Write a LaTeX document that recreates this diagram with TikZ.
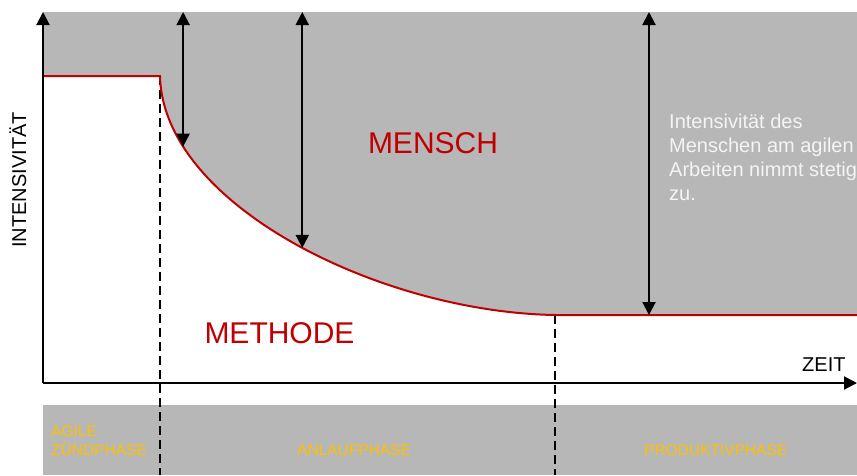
\documentclass[tikz,border=0pt]{standalone}
\usepackage{fontspec}
\setmainfont{Liberation Sans}
\usetikzlibrary{arrows.meta}
\definecolor{bggray}{HTML}{B7B7B7}
\definecolor{curvered}{HTML}{C00000}
\definecolor{phaseyel}{HTML}{FFC000}
\definecolor{notewhite}{HTML}{F4F4F4}

\begin{document}
\begin{tikzpicture}[x=1pt,y=-1pt,
  axis/.style={line width=2pt,-{Triangle[length=13pt,width=13pt]}},
  dim/.style={line width=2pt,{Triangle[length=13pt,width=13pt]}-{Triangle[length=13pt,width=13pt]}},
  sep/.style={line width=2pt,dash pattern=on 9pt off 5pt},
  phase/.style={text=phaseyel,font=\fontsize{15.5}{19}\selectfont,inner sep=0pt,align=left},
  big/.style={text=curvered,font=\fontsize{30}{36}\selectfont,inner sep=0pt},
  lbl/.style={font=\fontsize{20}{24}\selectfont,inner sep=0pt}]
\useasboundingbox (0,0) rectangle (857,475);
% axes and curve points
\coordinate (o) at (43,383);
\coordinate (ytop) at (43,12);
\coordinate (xend) at (857,383);
\coordinate (start) at (43,76);
\coordinate (k1) at (160,76);
\coordinate (k2) at (555,315);
\coordinate (end) at (857,315);
% grey area above the curve and the phase band
\fill[bggray] (ytop) -- (857,12) -- (end) -- (k2)
  .. controls (380,312) and (163,205) .. (k1) -- (start) -- cycle;
\fill[bggray] (43,405) rectangle (857,475);
% points on the curve for the arrows
\path (k1) .. controls (163,205) and (380,312) .. (k2)
  coordinate[pos=0.19] (m1) coordinate[pos=0.52] (m2);
\coordinate (m3) at (649,315);
\coordinate (t1) at (m1 |- ytop);
\coordinate (t2) at (m2 |- ytop);
\coordinate (t3) at (m3 |- ytop);
\coordinate (d1) at (160,475);
\coordinate (d2) at (555,475);
% phase borders
\draw[sep] (k1) -- (d1);
\draw[sep] (k2) -- (d2);
% curve
\draw[curvered,line width=2pt] (start) -- (k1)
  .. controls (163,205) and (380,312) .. (k2) -- (end);
% axes
\draw[axis] (o) -- (ytop);
\draw[axis] (o) -- (xend);
\draw[dim] (t1) -- (m1);
\draw[dim] (t2) -- (m2);
\draw[dim] (t3) -- (m3);
% texts
\node[big,anchor=base] (mensch) at (433,153) {MENSCH};
\node[big,anchor=base] (methode) at (279.5,343) {METHODE};
\node[lbl,anchor=base west] (zeit) at (802,371) {ZEIT};
\node[lbl,rotate=90,anchor=base] (intens) at (26,180) {INTENSIVITÄT};
\node[lbl,text=notewhite,anchor=north west,align=left] (note) at (669,114)
  {Intensivität des\\Menschen am agilen\\Arbeiten nimmt stetig\\zu.};
\node[phase,anchor=north west] (ph1) at (51,425) {AGILE\\ZÜNDPHASE};
\node[phase,anchor=base west] (ph2) at (297,455) {ANLAUFPHASE};
\node[phase,anchor=base west] (ph3) at (644,455) {PRODUKTIVPHASE};
\end{tikzpicture}
\end{document}
